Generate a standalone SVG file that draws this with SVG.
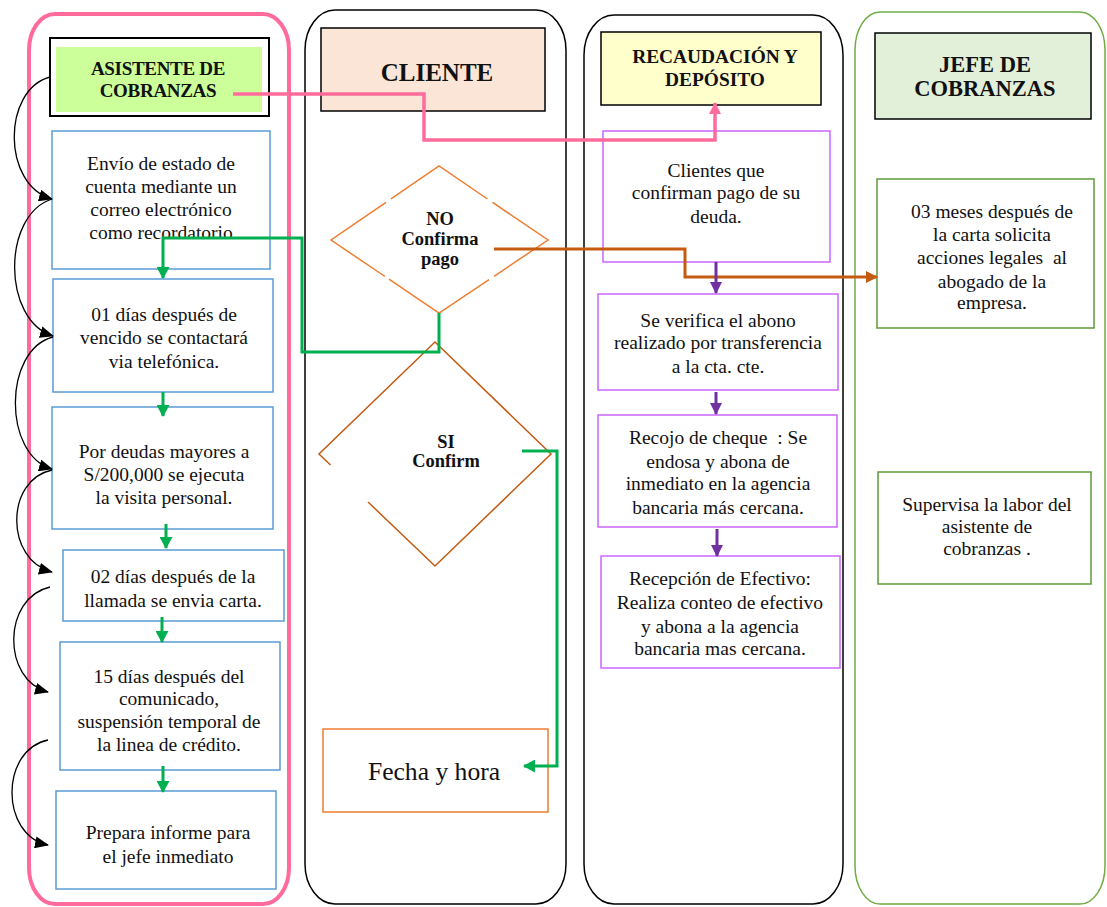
<svg xmlns="http://www.w3.org/2000/svg" width="1107" height="907" viewBox="0 0 1107 907">
<style>
text{font-family:"Liberation Serif","Times New Roman",serif;fill:#111;text-anchor:middle}
.t{font-size:19.5px}
.h{font-weight:bold}
.pre{white-space:pre}
.lane{fill:none}
.blue{fill:#fff;stroke:#5B9BD5;stroke-width:1.5}
.vio{fill:#fff;stroke:#CC66FF;stroke-width:1.5}
.grn{fill:#fff;stroke:#5E9A3C;stroke-width:1.5}
.ga{fill:none;stroke:#00B050;stroke-width:3;marker-end:url(#mg)}
.pa{fill:none;stroke:#7030A0;stroke-width:3;marker-end:url(#mp)}
.ba{fill:none;stroke:#000;stroke-width:1.3;marker-end:url(#mb)}
</style>
<defs>
<marker id="mg" viewBox="0 0 12 13" refX="11" refY="6.5" markerWidth="12" markerHeight="13" markerUnits="userSpaceOnUse" orient="auto"><path d="M0,0 L12,6.5 L0,13 z" fill="#00B050"/></marker>
<marker id="mp" viewBox="0 0 12 12" refX="11" refY="6" markerWidth="12" markerHeight="12" markerUnits="userSpaceOnUse" orient="auto"><path d="M0,0 L12,6 L0,12 z" fill="#7030A0"/></marker>
<marker id="mk" viewBox="0 0 12 12" refX="11" refY="6" markerWidth="12" markerHeight="12" markerUnits="userSpaceOnUse" orient="auto"><path d="M0,0 L12,6 L0,12 z" fill="#FF6C9C"/></marker>
<marker id="mo" viewBox="0 0 12 12" refX="11" refY="6" markerWidth="12" markerHeight="12" markerUnits="userSpaceOnUse" orient="auto"><path d="M0,0 L12,6 L0,12 z" fill="#C55A11"/></marker>
<marker id="mb" viewBox="0 0 14 12" refX="13" refY="6" markerWidth="14" markerHeight="12" markerUnits="userSpaceOnUse" orient="auto"><path d="M0,0 L14,6 L0,12 z" fill="#000"/></marker>
</defs>
<rect width="1107" height="907" fill="#fff"/>
<g id="lanes">
<rect id="lane-asistente" class="lane" x="29" y="14" width="260" height="890" rx="26" ry="36" stroke="#FF6C9C" stroke-width="4"/>
<rect id="lane-cliente" class="lane" x="305" y="10" width="261" height="894" rx="30" ry="40" stroke="#000" stroke-width="1.5"/>
<rect id="lane-recaudacion" class="lane" x="584" y="15" width="259" height="889" rx="30" ry="40" stroke="#000" stroke-width="1.5"/>
<rect id="lane-jefe" class="lane" x="855" y="12" width="250" height="892" rx="25" ry="38" stroke="#70AD47" stroke-width="1.5"/>
</g>
<g id="h-asistente">
<rect x="50" y="38" width="219" height="78" fill="#fff" stroke="#000" stroke-width="2"/>
<rect x="56" y="47" width="206" height="65" fill="#CCFF99"/>
<text class="h" font-size="19" letter-spacing="-0.3"><tspan x="158" y="75">ASISTENTE DE</tspan><tspan x="158" y="97">COBRANZAS</tspan></text>
</g>
<g id="h-cliente">
<rect x="321" y="28" width="224" height="83" fill="#FBE5D6" stroke="#000" stroke-width="1.5"/>
<text class="h" font-size="25" x="437" y="81">CLIENTE</text>
</g>
<g id="h-recaudacion">
<rect x="601" y="32" width="220" height="73" fill="#FFFFCC" stroke="#000" stroke-width="1.5"/>
<text class="h" font-size="19.4"><tspan x="715" y="63">RECAUDACIÓN Y</tspan><tspan x="715" y="86">DEPÓSITO</tspan></text>
</g>
<g id="h-jefe">
<rect x="875" y="33" width="216" height="86" fill="#E2EFD9" stroke="#000" stroke-width="1.5"/>
<text class="h" font-size="22.5"><tspan x="985" y="72">JEFE DE</tspan><tspan x="985" y="96">COBRANZAS</tspan></text>
</g>
<g id="a1">
<rect class="blue" x="52" y="131" width="218" height="138"/>
<text class="t"><tspan x="161" y="170">Envío de estado de</tspan><tspan x="161" y="193">cuenta mediante un</tspan><tspan x="161" y="216">correo electrónico</tspan><tspan x="161" y="239">como recordatorio</tspan></text>
</g>
<g id="a2">
<rect class="blue" x="53" y="279" width="220" height="113"/>
<text class="t"><tspan x="164" y="321">01 días después de</tspan><tspan x="164" y="344">vencido se contactará</tspan><tspan x="164" y="368">via telefónica.</tspan></text>
</g>
<g id="a3">
<rect class="blue" x="52" y="407" width="221" height="122"/>
<text class="t"><tspan x="164" y="458">Por deudas mayores a</tspan><tspan x="164" y="481">S/200,000 se ejecuta</tspan><tspan x="164" y="504">la visita personal.</tspan></text>
</g>
<g id="a4">
<rect class="blue" x="63" y="550" width="221" height="71"/>
<text class="t"><tspan x="173" y="583">02 días después de la</tspan><tspan x="173" y="607">llamada se envia carta.</tspan></text>
</g>
<g id="a5">
<rect class="blue" x="60" y="642" width="220" height="128"/>
<text class="t"><tspan x="169" y="683">15 días después del</tspan><tspan x="169" y="705">comunicado,</tspan><tspan x="169" y="728">suspensión temporal de</tspan><tspan x="169" y="751">la linea de crédito.</tspan></text>
</g>
<g id="a6">
<rect class="blue" x="56" y="791" width="220" height="98"/>
<text class="t"><tspan x="168" y="839">Prepara informe para</tspan><tspan x="168" y="863">el jefe inmediato</tspan></text>
</g>
<g id="c-no">
<path d="M386,202.3 L331,240 L385,276.5 M389,279.2 L439,313 L489,279.7 M494,276.3 L548,240 L492.5,202.4 M487.5,199 L439,166 L391,198.9" fill="none" stroke="#ED7D31" stroke-width="1.5"/>
<text class="h" font-size="18.5"><tspan x="440" y="225">NO</tspan><tspan x="440" y="245">Confirma</tspan><tspan x="440" y="265">pago</tspan></text>
</g>
<g id="c-si">
<path d="M330.5,465 L319,454 L435,342 L551,454 L435,566 L368,502" fill="none" stroke="#C55A11" stroke-width="1.5"/>
<text class="h" font-size="18.4"><tspan x="446" y="448">SI</tspan><tspan x="446" y="467">Confirm</tspan></text>
</g>
<g id="c-fecha">
<rect x="323" y="729" width="225" height="83" fill="#fff" stroke="#ED7D31" stroke-width="1.5"/>
<text font-size="25.6" x="434" y="780">Fecha y hora</text>
</g>
<g id="r1">
<rect class="vio" x="603" y="131" width="227" height="131"/>
<text class="t"><tspan x="716" y="177">Clientes que</tspan><tspan x="716" y="199">confirman pago de su</tspan><tspan x="716" y="223">deuda.</tspan></text>
</g>
<g id="r2">
<rect class="vio" x="598" y="294" width="240" height="96"/>
<text class="t"><tspan x="718" y="327">Se verifica el abono</tspan><tspan x="718" y="349">realizado por transferencia</tspan><tspan x="718" y="373">a la cta. cte.</tspan></text>
</g>
<g id="r3">
<rect class="vio" x="598" y="415" width="239" height="112"/>
<text class="t"><tspan class="pre" x="718" y="444">Recojo de cheque  : Se</tspan><tspan x="718" y="468">endosa y abona de</tspan><tspan x="718" y="490">inmediato en la agencia</tspan><tspan x="718" y="514">bancaria más cercana.</tspan></text>
</g>
<g id="r4">
<rect class="vio" x="601" y="556" width="239" height="112"/>
<text class="t"><tspan x="720" y="585">Recepción de Efectivo:</tspan><tspan x="720" y="609">Realiza conteo de efectivo</tspan><tspan x="720" y="633">y abona a la agencia</tspan><tspan x="720" y="655">bancaria mas cercana.</tspan></text>
</g>
<g id="j1">
<rect class="grn" x="877" y="179" width="217" height="149"/>
<text class="t"><tspan x="992" y="218">03 meses después de</tspan><tspan x="992" y="241">la carta solicita</tspan><tspan class="pre" x="992" y="264">acciones legales  al</tspan><tspan x="992" y="288">abogado de la</tspan><tspan x="992" y="309">empresa.</tspan></text>
</g>
<g id="j2">
<rect class="grn" x="878" y="472" width="213" height="112"/>
<text class="t"><tspan x="987" y="511">Supervisa la labor del</tspan><tspan x="987" y="533">asistente de</tspan><tspan x="987" y="555">cobranzas .</tspan></text>
</g>
<g id="connectors">
<path class="ba" d="M50,77 C2,90 2,185 52,199"/>
<path class="ba" d="M52,199 C2,215 2,320 53,336"/>
<path class="ba" d="M53,337 C3,350 3,455 52,469"/>
<path class="ba" d="M52,470 C5,480 5,560 52,572"/>
<path class="ba" d="M50,587 C2,598 2,680 48,692"/>
<path class="ba" d="M48,740 C0,750 0,835 48,845"/>
<path class="ga" d="M439,313 V352 H302 V238 H163 V278"/>
<path class="ga" d="M163,392 V416"/>
<path class="ga" d="M166,524 V548"/>
<path class="ga" d="M162,617 V642"/>
<path class="ga" d="M163,766 V792"/>
<path class="ga" d="M522,451 H557 V766 H524"/>
<path d="M233,94 H424 V140 H715 V103" fill="none" stroke="#FF6C9C" stroke-width="3.5" marker-end="url(#mk)"/>
<path d="M494,249 H685 V277 H877" fill="none" stroke="#C55A11" stroke-width="3" marker-end="url(#mo)"/>
<path class="pa" d="M716,262 V293"/>
<path class="pa" d="M716,392 V414"/>
<path class="pa" d="M717,529 V556"/>
</g>
</svg>
